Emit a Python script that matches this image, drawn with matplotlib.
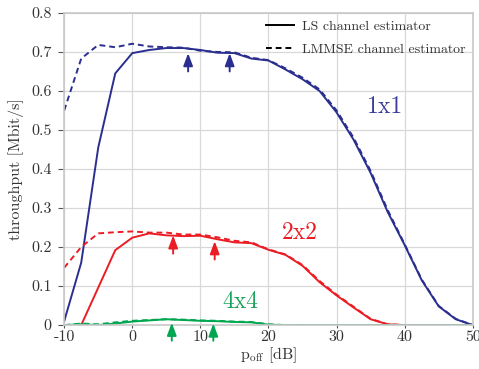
import numpy as np
import matplotlib
matplotlib.use("Agg")
from matplotlib import pyplot as plt

plt.rcParams['font.family'] = 'serif'
plt.rcParams['font.serif'] = ['cmr10', 'DejaVu Serif']
plt.rcParams['mathtext.fontset'] = 'cm'
plt.rcParams['axes.formatter.use_mathtext'] = True

# offset power [dB]
p_off = [-10, -7.5, -5, -2.5, 0, 2.5, 5, 7.5, 10, 12.5, 15, 17.5, 20, 22.5, 25,
         27.5, 30, 32.5, 35, 37.5, 40, 42.5, 45, 47.5, 50]

# throughput [Mbit/s]
ls_1x1 = [0.01, 0.16, 0.455, 0.645, 0.697, 0.705, 0.71, 0.71, 0.705, 0.698, 0.697,
          0.683, 0.678, 0.655, 0.63, 0.60, 0.545, 0.475, 0.39, 0.29, 0.205, 0.115,
          0.048, 0.015, 0.0]
lmmse_1x1 = [0.55, 0.683, 0.718, 0.712, 0.721, 0.714, 0.712, 0.711, 0.703, 0.700, 0.699,
             0.685, 0.679, 0.658, 0.634, 0.604, 0.55, 0.48, 0.395, 0.295, 0.207, 0.117,
             0.049, 0.016, 0.0]
ls_2x2 = [0.0, 0.0, 0.096, 0.192, 0.224, 0.235, 0.23, 0.228, 0.229, 0.22, 0.212,
          0.21, 0.193, 0.18, 0.152, 0.11, 0.076, 0.045, 0.015, 0.002, 0.0, 0.0,
          0.0, 0.0, 0.0]
lmmse_2x2 = [0.147, 0.2, 0.235, 0.238, 0.24, 0.237, 0.237, 0.232, 0.232, 0.225, 0.216,
             0.212, 0.194, 0.181, 0.154, 0.113, 0.078, 0.047, 0.016, 0.002, 0.0, 0.0,
             0.0, 0.0, 0.0]
ls_4x4 = [0.0, 0.002, 0.0, 0.004, 0.009, 0.012, 0.015, 0.013, 0.011, 0.01, 0.008,
          0.007, 0.001, 0.0, 0.0, 0.0, 0.0, 0.0, 0.0, 0.0, 0.0, 0.0, 0.0, 0.0, 0.0]
lmmse_4x4 = [0.0, 0.004, 0.002, 0.007, 0.011, 0.013, 0.015, 0.014, 0.012, 0.011, 0.009,
             0.008, 0.002, 0.0, 0.0, 0.0, 0.0, 0.0, 0.0, 0.0, 0.0, 0.0, 0.0, 0.0, 0.0]

# arrow markers (x, tail y, head y)
arrows_1x1 = [(8.2, 0.650, 0.697), (14.3, 0.650, 0.697)]
arrows_2x2 = [(6.0, 0.183, 0.230), (12.1, 0.168, 0.215)]
arrows_4x4 = [(5.8, -0.04, 0.006), (11.9, -0.04, 0.004)]

blue = '#2a2f8f'
red = '#ec1c24'
green = '#00a650'

fig = plt.figure(figsize=(4.79, 3.69), dpi=100)
ax = fig.add_axes([0.134, 0.119, 0.853, 0.846])

ax.plot(p_off, ls_1x1, color=blue, lw=1.4)
ax.plot(p_off, lmmse_1x1, color=blue, lw=1.4, ls=(0, (3, 2)))
ax.plot(p_off, ls_2x2, color=red, lw=1.4)
ax.plot(p_off, lmmse_2x2, color=red, lw=1.4, ls=(0, (3, 2)))
ax.plot(p_off, ls_4x4, color=green, lw=1.4)
ax.plot(p_off, lmmse_4x4, color=green, lw=1.4, ls=(0, (3, 2)))

for arrs, c in [(arrows_1x1, blue), (arrows_2x2, red), (arrows_4x4, green)]:
    for x, y0, y1 in arrs:
        ax.annotate('', xy=(x, y1), xytext=(x, y0), annotation_clip=False,
                    arrowprops=dict(arrowstyle='-|>,head_length=0.75,head_width=0.28',
                                    color=c, lw=1.4, shrinkA=0, shrinkB=0))

ax.text(37.1, 0.559, '1x1', color='#3a3d9c', fontsize=17, ha='center', va='center')
ax.text(24.6, 0.236, '2x2', color=red, fontsize=17, ha='center', va='center')
ax.text(15.8, 0.059, '4x4', color='#1aa35a', fontsize=17, ha='center', va='center')

ax.plot([], [], color='black', lw=1.4, label='LS channel estimator')
ax.plot([], [], color='black', lw=1.4, ls=(0, (3, 2)), label='LMMSE channel estimator')
leg = ax.legend(loc='upper right', frameon=False, fontsize=10, handlelength=2.0,
                handletextpad=0.6, borderaxespad=0.1, labelspacing=0.75)
for t in leg.get_texts():
    t.set_color('#333333')

ax.set_xlim(-10, 50)
ax.set_ylim(0, 0.8)
xt = [-10, 0, 10, 20, 30, 40, 50]
ax.set_xticks(xt)
ax.set_xticklabels([str(v) for v in xt])
yt = [0, 0.1, 0.2, 0.3, 0.4, 0.5, 0.6, 0.7, 0.8]
ax.set_yticks(yt)
ax.set_yticklabels(['0'] + ['%.1f' % v for v in yt[1:]])
ax.grid(True, color='#d8d8d8', lw=0.9)
ax.set_axisbelow(True)
for s in ax.spines.values():
    s.set_color('#c8c8c8')
    s.set_linewidth(1.2)
ax.tick_params(direction='out', length=4, color='#555555', labelsize=11.5,
               labelcolor='#333333')
ax.tick_params(axis='y', pad=5)
ax.tick_params(axis='x', length=2, pad=2)
ax.set_xlabel(r'$\mathrm{p}_{\mathrm{off}}$ [dB]', fontsize=11.5, color='#333333', labelpad=1)
ax.set_ylabel('throughput [Mbit/s]', fontsize=11.5, color='#333333', labelpad=5)

fig.savefig('out.png', dpi=100)
